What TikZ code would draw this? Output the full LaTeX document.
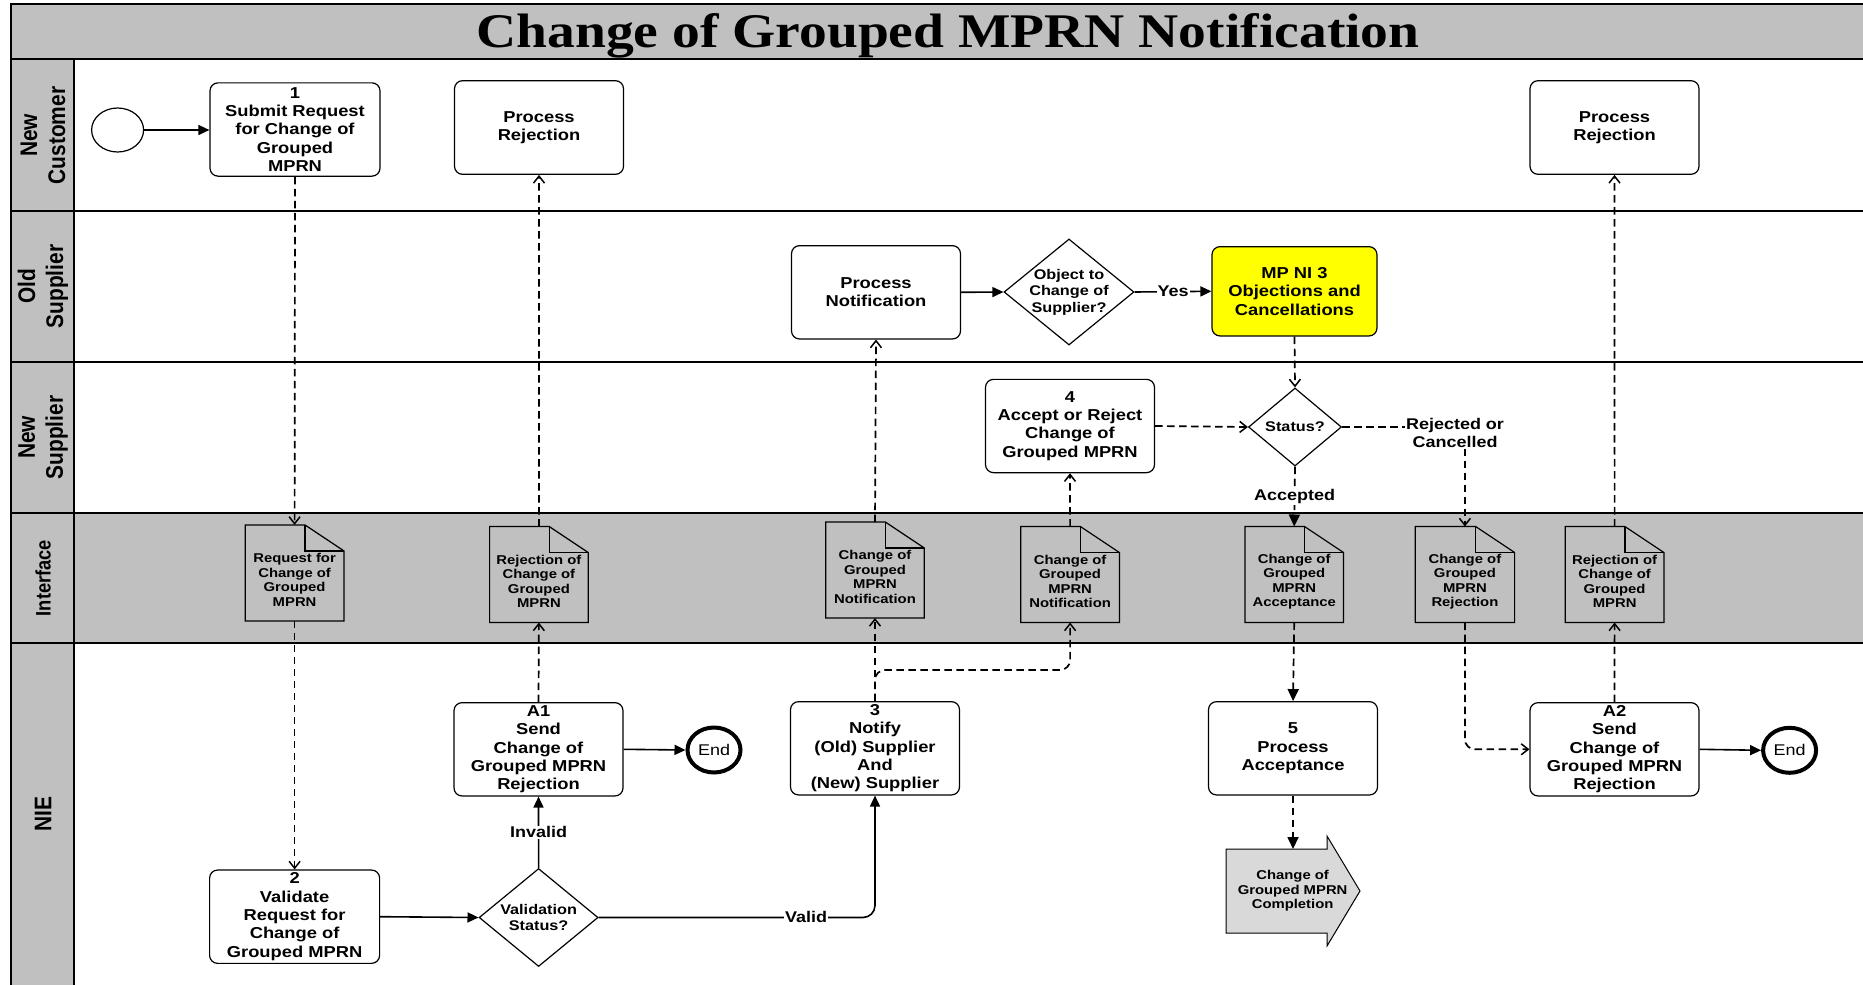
\documentclass[tikz,border=0pt]{standalone}
\usepackage{fontspec}
\setmainfont{Liberation Sans}[FakeStretch=1.16]
\newfontfamily\titlefont{Liberation Serif}[FakeStretch=1.15]
\newfontfamily\lanefont{Liberation Sans}[FakeStretch=0.87]
\usetikzlibrary{shapes.geometric,arrows.meta}
\definecolor{lanegray}{RGB}{192,192,192}
\definecolor{compgray}{RGB}{217,217,217}
\definecolor{mpyellow}{RGB}{255,255,0}
\newcommand{\bxfont}{\bfseries\fontsize{15.8pt}{18.3pt}\selectfont}
\newcommand{\dcfont}{\bfseries\fontsize{12.8pt}{14.5pt}\selectfont}
\newcommand{\dmfont}{\bfseries\fontsize{14pt}{16.6pt}\selectfont}
\newcommand{\lbfont}{\bfseries\fontsize{15.5pt}{17.7pt}\selectfont}
\newcommand{\lnfont}{\lanefont\bfseries\fontsize{24pt}{28pt}\selectfont}
\newcommand{\docoutline}[1]{%
  \draw[docline] (#1.south west) -- (#1.north west) -- ([xshift=-39pt]#1.north east) -- ([yshift=-26pt]#1.north east) -- (#1.south east) -- cycle;
  \draw[docline] ([xshift=-39pt]#1.north east) -- ([xshift=-39pt,yshift=-26pt]#1.north east) -- ([yshift=-26pt]#1.north east);}
\begin{document}
\begin{tikzpicture}[x=1pt,y=-1pt,
  box/.style={draw, line width=1.2pt, rounded corners=8pt, fill=white, align=center, inner sep=1pt, minimum width=169pt, minimum height=93.3pt, font=\bxfont},
  dia/.style={draw, diamond, line width=1.2pt, fill=white, inner sep=0pt},
  dialbl/.style={align=center, font=\dmfont, inner sep=0pt},
  docbox/.style={minimum width=98.2pt, minimum height=95.6pt, inner sep=0pt},
  doclbl/.style={align=center, font=\dcfont, inner sep=0pt, yshift=-7pt},
  docline/.style={line width=1.2pt, line join=miter},
  lbl/.style={font=\lbfont, fill=white, inner sep=1pt, align=center},
  lanelbl/.style={rotate=90, align=center, font=\lnfont, inner sep=0pt},
  startev/.style={draw, ellipse, line width=1.2pt, fill=white, minimum width=52pt, minimum height=44pt, inner sep=0pt},
  endev/.style={draw, ellipse, line width=4pt, fill=white, minimum width=53pt, minimum height=45pt, inner sep=0pt, font=\fontsize{15.5pt}{18pt}\selectfont},
  flow/.style={line width=1.6pt, -{Triangle[length=11pt,width=10pt]}},
  msg/.style={line width=1.7pt, dash pattern=on 7.5pt off 4.5pt, -{Straight Barb[length=7pt,width=11pt,line width=1.5pt]}},
  msgf/.style={line width=1.7pt, dash pattern=on 7.5pt off 4.5pt, -{Triangle[length=12pt,width=11pt]}},
  dline/.style={line width=1.7pt, dash pattern=on 7.5pt off 4.5pt}
]
\useasboundingbox (0,0) rectangle (1863,985);
\fill[white] (0,0) rectangle (1863,985);
% title band
\draw[fill=lanegray, line width=1.2pt] (11,4) rectangle (1870,59);
\node[font={\titlefont\bfseries\fontsize{48.3pt}{52pt}\selectfont}, anchor=base, inner sep=0pt] (title) at (948,47) {Change of Grouped MPRN Notification};
% lanes
\fill[lanegray] (74,513) rectangle (1870,643);
\draw[fill=lanegray, line width=1.2pt] (11,59) rectangle (74,995);
\foreach \yy in {211,362,513,643} {\draw[line width=1.4pt] (11,\yy) -- (1870,\yy);}
\node[lanelbl] (lnc) at (43,135.5) {New\\Customer};
\node[lanelbl] (los) at (43,286.5) {Old\\Supplier};
\node[lanelbl] (lns) at (43,437.5) {New\\Supplier};
\node[lanelbl, font={\lanefont\bfseries\fontsize{21pt}{25pt}\selectfont}] (lif) at (43,578) {Interface};
\node[lanelbl] (lnie) at (43,814) {NIE};
% New Customer
\node[startev] (start) at (117.6,130) {};
\node[box, minimum width=170pt] (b1) at (295,129.5) {1\\Submit Request\\for Change of\\Grouped\\MPRN};
\node[box, minimum height=93.6pt] (pr1) at (539,127.5) {Process\\Rejection};
\node[box, minimum height=93.6pt] (pr2) at (1614.5,127.5) {Process\\Rejection};
% Old Supplier
\node[box] (pn) at (876,292.3) {Process\\Notification};
\node[dia, minimum width=130pt, minimum height=106pt, label={[dialbl]center:Object to\\Change of\\Supplier?}] (obj) at (1069,292) {};
\node[box, fill=mpyellow, minimum width=165pt, minimum height=89.3pt] (mp) at (1294.5,291.3) {MP NI 3\\Objections and\\Cancellations};
% New Supplier
\node[box] (b4) at (1070,426) {4\\Accept or Reject\\Change of\\Grouped MPRN};
\node[dia, minimum width=93pt, minimum height=78pt, label={[dialbl]center:Status?}] (st) at (1295,427) {};
\node[lbl] (rc) at (1455,433) {Rejected or\\Cancelled};
% Interface documents
\node[docbox, label={[doclbl]center:Request for\\Change of\\Grouped\\MPRN}] (d1) at (294.6,572.9) {};
\node[docbox, label={[doclbl]center:Rejection of\\Change of\\Grouped\\MPRN}] (d2) at (538.9,574.5) {};
\node[docbox, label={[doclbl]center:Change of\\Grouped\\MPRN\\Notification}] (d3) at (875,570) {};
\node[docbox, label={[doclbl]center:Change of\\Grouped\\MPRN\\Notification}] (d4) at (1070.1,574.5) {};
\node[docbox, label={[doclbl]center:Change of\\Grouped\\MPRN\\Acceptance}] (d5) at (1294.2,574.5) {};
\node[docbox, minimum width=99pt, label={[doclbl]center:Change of\\Grouped\\MPRN\\Rejection}] (d6) at (1464.9,574.5) {};
\node[docbox, label={[doclbl]center:Rejection of\\Change of\\Grouped\\MPRN}] (d7) at (1614.6,574.5) {};
\docoutline{d1}\docoutline{d2}\docoutline{d3}\docoutline{d4}\docoutline{d5}\docoutline{d6}\docoutline{d7}
% NIE
\node[box] (a1) at (538.5,749.3) {A1\\Send\\Change of\\Grouped MPRN\\Rejection};
\node[endev] (e1) at (714,750) {End};
\node[box, minimum width=170pt] (b2) at (294.6,916.7) {2\\Validate\\Request for\\Change of\\Grouped MPRN};
\node[dia, minimum width=119pt, minimum height=98pt, label={[dialbl]center:Validation\\Status?}] (vs) at (538.6,917.5) {};
\node[box] (b3) at (875,748.3) {3\\Notify\\(Old) Supplier\\And\\(New) Supplier};
\node[box] (b5) at (1293,748.3) {5\\Process\\Acceptance};
\draw[fill=compgray, line width=1pt] (1226,849) -- (1327,849) -- (1327,836) -- (1360,891) -- (1327,946) -- (1327,933) -- (1226,933) -- cycle;
\node[font=\dcfont, align=center, inner sep=0pt] (comp) at (1292.6,890.7) {Change of\\Grouped MPRN\\Completion};
\coordinate (comptop) at (1293,849);
\node[box] (a2) at (1614.5,749.3) {A2\\Send\\Change of\\Grouped MPRN\\Rejection};
\node[endev] (e2) at (1789.6,750.3) {End};
% connectors
\draw[flow] (start.east) -- (b1.west |- start.east);
\draw[msg] (b1.south) -- (d1.north);
\draw[msg] (d1.south) -- (b2.north);
\draw[flow] (b2.east) -- (vs.west);
\draw[flow] (vs.north) -- node[lbl]{Invalid} (a1.south);
\draw[flow, rounded corners=12pt] (vs.east) -- (b3.south |- vs.east) -- (b3.south);
\node[lbl] (validl) at (806,917) {Valid};
\draw[flow] (a1.east) -- (e1.west);
\draw[msg] (a1.north) -- (d2.south);
\draw[msg] (d2.north) -- (pr1.south);
\draw[msg] (b3.north) -- (d3.south);
\coordinate (br) at (875,670);
\draw[msg, rounded corners=10pt] (b3.north) -- (br) -- (d4.south |- br) -- (d4.south);
\draw[msg] (d3.north) -- (pn.south);
\draw[msg] (d4.north) -- (b4.south);
\draw[flow] (pn.east) -- (obj.west);
\draw[flow] (obj.east) -- node[lbl]{Yes} (mp.west);
\draw[msg] (mp.south) -- (st.north);
\draw[msg] (b4.east) -- (st.west);
\draw[dline] (st.east) -- (st.east -| rc.west);
\draw[msg] (rc.south -| d6.north) -- (d6.north);
\draw[msgf] (st.south) -- node[lbl]{Accepted} (d5.north);
\draw[msgf] (d5.south) -- (b5.north);
\draw[msgf] (b5.south) -- (comptop);
\draw[msg, rounded corners=10pt] (d6.south) |- (a2.west);
\draw[msg] (a2.north) -- (d7.south);
\draw[msg] (d7.north) -- (pr2.south);
\draw[flow] (a2.east) -- (e2.west);
\end{tikzpicture}
\end{document}
